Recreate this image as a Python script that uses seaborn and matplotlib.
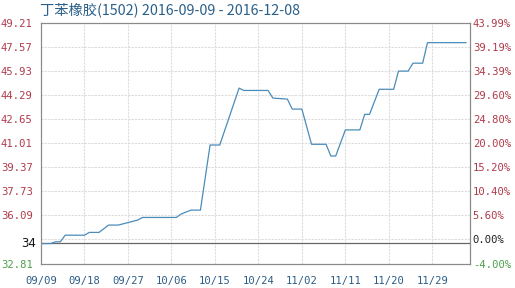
import matplotlib
matplotlib.use("Agg")
import matplotlib.pyplot as plt
import matplotlib.dates as mdates
import matplotlib.transforms as mtransforms
import seaborn as sns
import pandas as pd

# ---- data ----
title = "丁苯橡胶(1502) 2016-09-09 - 2016-12-08"
dates = ["2016-09-09", "2016-09-11", "2016-09-12", "2016-09-13", "2016-09-14",
         "2016-09-18", "2016-09-19", "2016-09-21", "2016-09-23", "2016-09-25",
         "2016-09-29", "2016-09-30", "2016-10-07", "2016-10-08", "2016-10-10",
         "2016-10-12", "2016-10-14", "2016-10-16", "2016-10-20", "2016-10-21",
         "2016-10-26", "2016-10-27", "2016-10-30", "2016-10-31", "2016-11-02",
         "2016-11-04", "2016-11-07", "2016-11-08", "2016-11-09", "2016-11-11",
         "2016-11-14", "2016-11-15", "2016-11-16", "2016-11-18", "2016-11-21",
         "2016-11-22", "2016-11-24", "2016-11-25", "2016-11-27", "2016-11-28",
         "2016-12-06"]
prices = [34.17, 34.17, 34.29, 34.29, 34.74,
          34.74, 34.93, 34.93, 35.43, 35.43,
          35.77, 35.95, 35.95, 36.18, 36.45,
          36.45, 40.89, 40.89, 44.77, 44.61,
          44.61, 44.09, 44.02, 43.34, 43.34,
          40.94, 40.94, 40.14, 40.14, 41.92,
          41.92, 42.98, 42.98, 44.69, 44.69,
          45.93, 45.93, 46.47, 46.47, 47.87,
          47.87]
base_value = 34.175
base_label = "34"
left_ticks = [32.81, 34.45, 36.09, 37.73, 39.37, 41.01, 42.65, 44.29, 45.93, 47.57, 49.21]
left_labels = ["32.81", "", "36.09", "37.73", "39.37", "41.01", "42.65", "44.29", "45.93", "47.57", "49.21"]
right_labels = ["-4.00%", "0.00%", "5.60%", "10.40%", "15.20%", "20.00%", "24.80%",
                "29.60%", "34.39%", "39.19%", "43.99%"]
x_ticks = ["2016-09-09", "2016-09-18", "2016-09-27", "2016-10-06", "2016-10-15",
           "2016-10-24", "2016-11-02", "2016-11-11", "2016-11-20", "2016-11-29"]

df = pd.DataFrame({"date": pd.to_datetime(dates), "price": prices})

sns.set_theme(style="white")
plt.rcParams["font.family"] = ["Noto Sans CJK SC", "DejaVu Sans"]

RED = "#b03a4a"
GREEN = "#4aa04a"
BLUE = "#2b5d87"
GRID = "#dcdcdc"

fig = plt.figure(figsize=(5.15, 2.88), dpi=100)
ax = fig.add_axes([41 / 515, 1 - 263.5 / 288, 429 / 515, 240.5 / 288])

sns.lineplot(data=df, x="date", y="price", ax=ax, color="#4a8cba", linewidth=0.9, zorder=3)

x0 = pd.Timestamp("2016-09-09")
ax.set_xlim(x0, x0 + pd.Timedelta(days=88.8))
ax.set_ylim(left_ticks[0], left_ticks[-1])

# grid
for v in left_ticks[1:-1]:
    ax.axhline(v, color=GRID, linewidth=0.8, linestyle=(0, (2, 1)), zorder=1)
xt = pd.to_datetime(x_ticks)
for d in xt[1:]:
    ax.axvline(d, color=GRID, linewidth=0.8, linestyle=(0, (2, 1)), zorder=1)
ax.axhline(base_value, color="#666666", linewidth=0.9, zorder=2)

ax.set_xticks(xt)
ax.set_xticklabels([d.strftime("%m/%d") for d in xt])
ax.set_yticks(left_ticks)
ax.set_yticklabels(left_labels)
ax.set_xlabel("")
ax.set_ylabel("")

mono = "DejaVu Sans Mono"
ax.tick_params(axis="x", length=0, pad=9, labelsize=7.6, labelcolor=BLUE)
ax.tick_params(axis="y", length=0, pad=6, labelsize=7.6)
for lab in ax.get_xticklabels():
    lab.set_family(mono)
for i, lab in enumerate(ax.get_yticklabels()):
    lab.set_family(mono)
    lab.set_color(GREEN if i == 0 else RED)

trans = mtransforms.blended_transform_factory(ax.transAxes, ax.transData)
ax.text(-0.012, base_value, base_label, transform=trans, ha="right", va="center",
        fontsize=8.5, color="#111111", family=["DejaVu Sans"])

ax2 = ax.twinx()
ax2.set_ylim(left_ticks[0], left_ticks[-1])
ax2.set_yticks(left_ticks)
ax2.set_yticklabels(right_labels)
ax2.tick_params(axis="y", length=0, pad=2, labelsize=7.6)
ax2.grid(False)
for i, lab in enumerate(ax2.get_yticklabels()):
    lab.set_family(mono)
    lab.set_color(GREEN if i == 0 else ("#222222" if i == 1 else RED))

for a in (ax, ax2):
    for s in a.spines.values():
        s.set_color("#8a8a8a")
        s.set_linewidth(0.8)

fig.text(40 / 515, 1 - 10 / 288, title, ha="left", va="center", fontsize=10.3,
         color="#2a5f8a", family=["Noto Sans CJK SC", "DejaVu Sans"])

fig.savefig("out.png", dpi=100)
